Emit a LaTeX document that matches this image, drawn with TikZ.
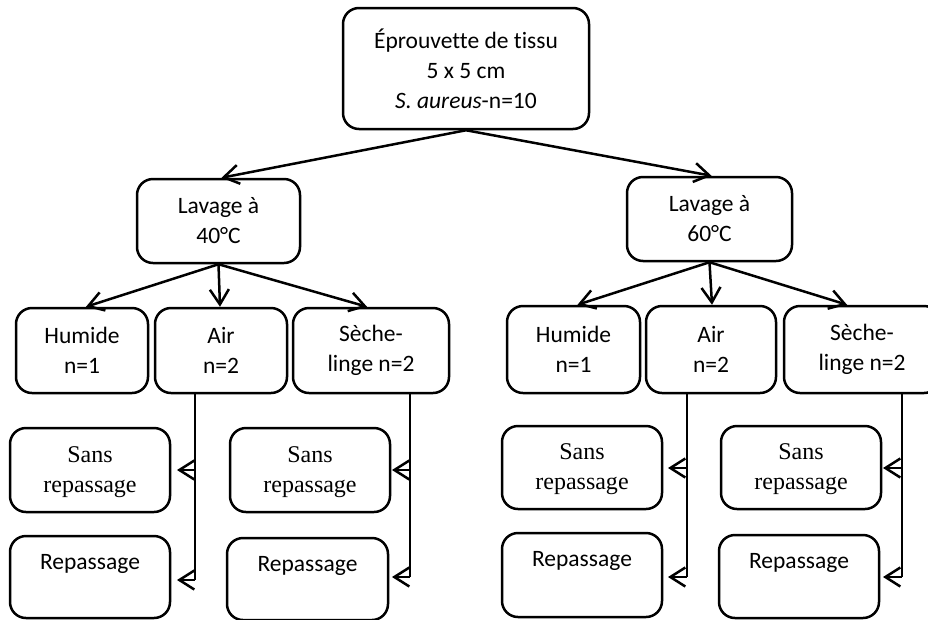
\documentclass[tikz,border=0pt]{standalone}
\usepackage{fontspec}
\setmainfont{Carlito}[Ligatures=NoCommon]
\newfontfamily\tnr{Liberation Serif}
\usetikzlibrary{arrows.meta}
\begin{document}
\begin{tikzpicture}[x=1pt,y=-1pt,
  box/.style={draw,line width=2.5pt,rounded corners=16pt,align=center,inner sep=0pt,
    font=\fontsize{23.5}{30}\selectfont},
  serifbox/.style={box,font=\tnr\fontsize{24}{30}\selectfont},
  lbl/.style={inner sep=0pt,font=\fontsize{23.5}{30}\selectfont},
  conn/.style={line width=2.5pt,-{Straight Barb[length=15pt,width=19pt]}},
  plain/.style={line width=2.5pt}]
\useasboundingbox (0,0) rectangle (928,619);
% top
\node[box,minimum width=246pt,minimum height=121pt] (top) at (466,68.5)
  {Éprouvette de tissu\\5 x 5 cm\\\textit{S. aureus}-n=10};
\node[box,minimum width=163pt,minimum height=84pt] (L40) at (218.5,221) {Lavage à\\40°C};
\node[box,minimum width=165pt,minimum height=84pt] (L60) at (709.5,219) {Lavage à\\60°C};
% second row left
\node[box,minimum width=132pt,minimum height=85pt] (H1) at (82,350.5) {Humide\\n=1};
\node[box,minimum width=132pt,minimum height=85pt] (A1) at (221,350.5) {Air\\n=2};
\node[box,minimum width=156pt,minimum height=85pt] (S1) at (371,350.5) {Sèche-\\linge n=2};
% second row right
\node[box,minimum width=133pt,minimum height=87pt] (H2) at (573.5,349.5) {Humide\\n=1};
\node[box,minimum width=130pt,minimum height=87pt] (A2) at (711,349.5) {Air\\n=2};
\node[box,minimum width=156pt,minimum height=87pt] (S2) at (862,349.5) {Sèche-\\linge n=2};
% third/fourth rows
\node[serifbox,minimum width=160pt,minimum height=84pt] (SR1) at (90,470) {};
\node[lbl,font=\tnr\fontsize{24}{30}\selectfont,align=center] (SR1t) at ([yshift=-2pt]SR1.center) {Sans\\repassage};
\node[box,minimum width=160pt,minimum height=82pt] (R1) at (90,577) {};
\node[lbl] (R1t) at ([yshift=-29pt]R1.north) {Repassage};
\node[serifbox,minimum width=160pt,minimum height=84pt] (SR2) at (310,470) {};
\node[lbl,font=\tnr\fontsize{24}{30}\selectfont,align=center] (SR2t) at ([yshift=-2pt]SR2.center) {Sans\\repassage};
\node[box,minimum width=161pt,minimum height=82pt] (R2) at (307.5,579) {};
\node[lbl] (R2t) at ([yshift=-29pt]R2.north) {Repassage};
\node[serifbox,minimum width=160pt,minimum height=83pt] (SR3) at (582,467.5) {};
\node[lbl,font=\tnr\fontsize{24}{30}\selectfont,align=center] (SR3t) at ([yshift=-2pt]SR3.center) {Sans\\repassage};
\node[box,minimum width=160pt,minimum height=84pt] (R3) at (582,575) {};
\node[lbl] (R3t) at ([yshift=-29pt]R3.north) {Repassage};
\node[serifbox,minimum width=160pt,minimum height=83pt] (SR4) at (801,467.5) {};
\node[lbl,font=\tnr\fontsize{24}{30}\selectfont,align=center] (SR4t) at ([yshift=-2pt]SR4.center) {Sans\\repassage};
\node[box,minimum width=160pt,minimum height=83pt] (R4) at (799,576.5) {};
\node[lbl] (R4t) at ([yshift=-29pt]R4.north) {Repassage};
% top connectors
\draw[conn] (top.south) -- ([xshift=3pt]L40.north);
\draw[conn] (top.south) -- ([xshift=2pt]L60.north);
\draw[conn] (L40.south) -- ([xshift=4pt]H1.north);
\draw[conn] (L40.south) -- ([xshift=-1pt]A1.north);
\draw[conn] (L40.south) -- ([xshift=-4pt]S1.north);
\draw[conn] (L60.south) -- ([xshift=4pt]H2.north);
\draw[conn] (L60.south) -- ([xshift=1pt]A2.north);
\draw[conn] (L60.south) -- ([xshift=-15pt]S2.north);
% vertical branches
\coordinate (v1a) at ([xshift=-26pt]A1.south);
\coordinate (v1m) at (195,470);
\coordinate (v1b) at (195,580);
\coordinate (t1a) at (177,470);
\coordinate (t1b) at (177,580);
\draw[plain] (v1a) -- (v1b);
\draw[conn] (v1m) -- (t1a);
\draw[conn] (v1b) -- (t1b);
\coordinate (v2a) at ([xshift=39pt]S1.south);
\coordinate (v2m) at (410,470);
\coordinate (v2b) at (410,577);
\coordinate (t2a) at (392,470);
\coordinate (t2b) at (392,577);
\draw[plain] (v2a) -- (v2b);
\draw[conn] (v2m) -- (t2a);
\draw[conn] (v2b) -- (t2b);
\coordinate (v3a) at ([xshift=-24pt]A2.south);
\coordinate (v3m) at (687,468);
\coordinate (v3b) at (687,577);
\coordinate (t3a) at (668,468);
\coordinate (t3b) at (668,577);
\draw[plain] (v3a) -- (v3b);
\draw[conn] (v3m) -- (t3a);
\draw[conn] (v3b) -- (t3b);
\coordinate (v4a) at ([xshift=40pt]S2.south);
\coordinate (v4m) at (902,468);
\coordinate (v4b) at (902,577);
\coordinate (t4a) at (883,468);
\coordinate (t4b) at (883,577);
\draw[plain] (v4a) -- (v4b);
\draw[conn] (v4m) -- (t4a);
\draw[conn] (v4b) -- (t4b);
\end{tikzpicture}
\end{document}
